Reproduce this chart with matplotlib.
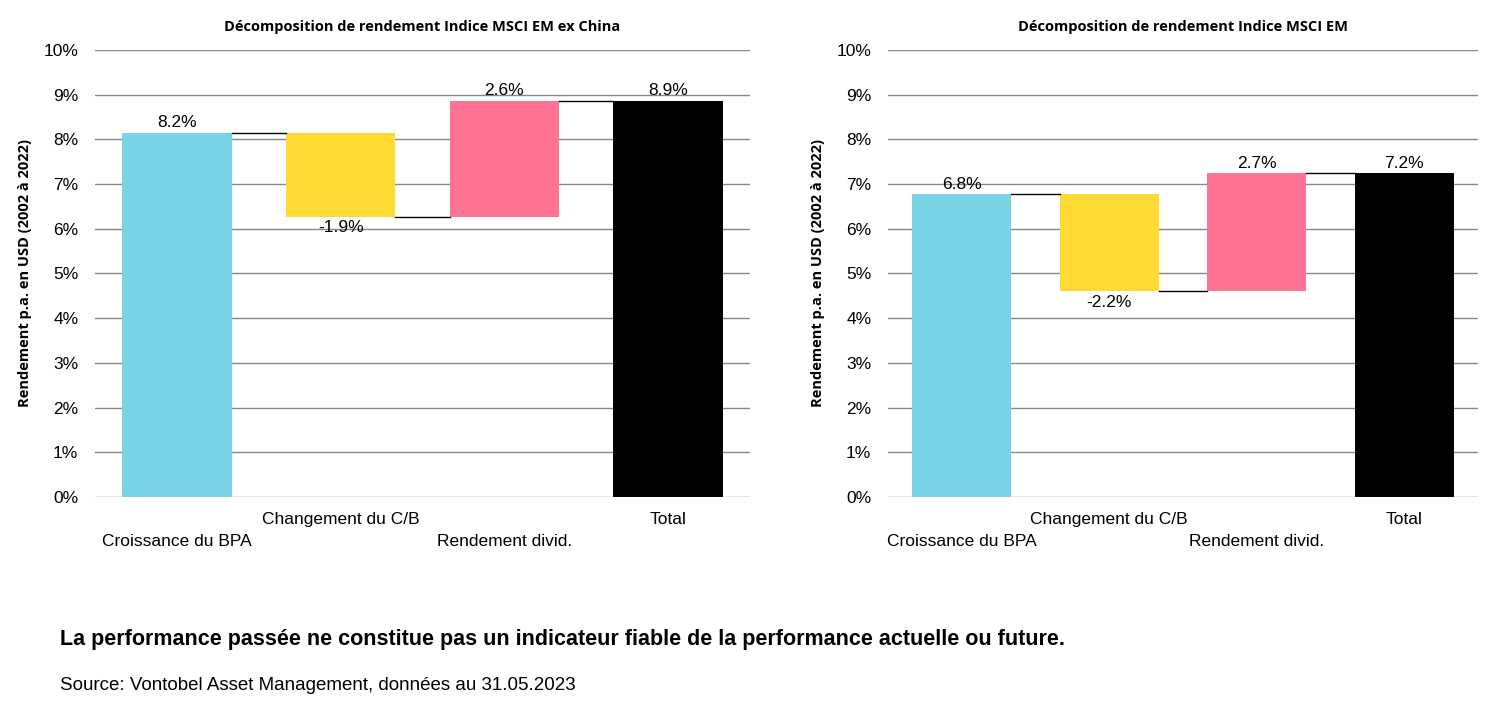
import matplotlib
matplotlib.use("Agg")
import matplotlib.pyplot as plt

categories = ["Croissance du BPA", "Changement du C/B", "Rendement divid.", "Total"]
left_vals = [8.15, -1.88, 2.6, 8.87]
left_labels = ["8.2%", "-1.9%", "2.6%", "8.9%"]
right_vals = [6.78, -2.18, 2.65, 7.25]
right_labels = ["6.8%", "-2.2%", "2.7%", "7.2%"]
titles = ["Décomposition de rendement Indice MSCI EM ex China", "Décomposition de rendement Indice MSCI EM"]
colors = ["#79D3E6", "#FEDA33", "#FD7391", "#000000"]
ticks = list(range(0, 11))

plt.rcParams['font.family'] = ['Liberation Sans', 'DejaVu Sans']
fig = plt.figure(figsize=(15, 7.1), dpi=100)
W, H = 1500, 710
axes_px = [(95, 750), (888, 1478)]
y_top, y_bot = 50, 497
w = 0.67
for (x0, x1), vals, labs, title in zip(axes_px, [left_vals, right_vals], [left_labels, right_labels], titles):
    ax = fig.add_axes([x0 / W, 1 - y_bot / H, (x1 - x0) / W, (y_bot - y_top) / H])
    ax.set_xlim(-0.5, 3.5)
    ax.set_ylim(0, 10)
    ax.set_yticks(ticks)
    ax.set_yticklabels([f"{t}%" for t in ticks], fontsize=12.5)
    ax.yaxis.grid(True, color="#888888", lw=1)
    ax.set_axisbelow(True)
    for s in ax.spines.values():
        s.set_visible(False)
    ax.tick_params(length=0, pad=12)
    ax.set_xticks([])
    cum = 0
    tops = []
    for i, v in enumerate(vals):
        if i == 3:
            bottom, height = 0, v
            end = v
        else:
            bottom = cum if v >= 0 else cum + v
            height = abs(v)
            cum += v
            end = cum
        ax.bar(i, height, bottom=bottom, width=w, color=colors[i], zorder=2)
        if v >= 0:
            ax.text(i, bottom + height + 0.05, labs[i], ha="center", va="bottom", fontsize=12.5)
        else:
            ax.text(i, bottom - 0.08, labs[i], ha="center", va="top", fontsize=12.5)
        tops.append(end)
    for i in range(3):
        ax.plot([i + w / 2, i + 1 - w / 2], [tops[i], tops[i]], color="black", lw=1, zorder=3)
    for i, c in enumerate(categories):
        ax.text(i, -0.5 if i % 2 else -1.0, c, ha="center", va="center", fontsize=12.5)
    ax.set_title(title, family=["Open Sans", "DejaVu Sans"], fontweight="bold", fontsize=10.5, pad=14)
    ax.set_ylabel("Rendement p.a. en USD (2002 à 2022)", family=["Open Sans", "DejaVu Sans"],
                  fontweight="bold", fontsize=10.5, labelpad=8)

fig.text(60 / W, 1 - 640 / H, "La performance passée ne constitue pas un indicateur fiable de la performance actuelle ou future.",
         fontsize=15.5, fontweight="bold", va="center")
fig.text(60 / W, 1 - 685 / H, "Source: Vontobel Asset Management, données au 31.05.2023", fontsize=13.5, va="center")
fig.savefig("out.png", dpi=100)
